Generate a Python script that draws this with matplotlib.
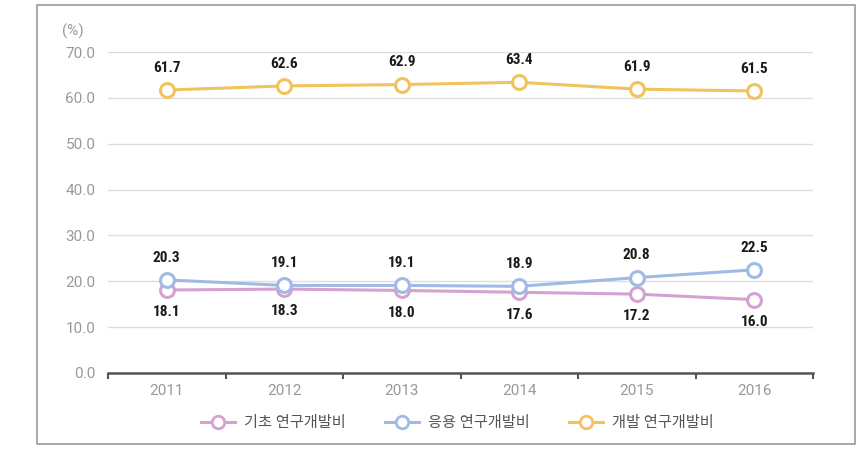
import matplotlib.pyplot as plt
from matplotlib.patches import Rectangle
from matplotlib.lines import Line2D

years = ["2011", "2012", "2013", "2014", "2015", "2016"]
basic = [18.1, 18.3, 18.0, 17.6, 17.2, 16.0]
applied = [20.3, 19.1, 19.1, 18.9, 20.8, 22.5]
develop = [61.7, 62.6, 62.9, 63.4, 61.9, 61.5]
names = ["기초 연구개발비", "응용 연구개발비", "개발 연구개발비"]
colors = ["#d4a2d0", "#9fbbe5", "#f2c35c"]

plt.rcParams["font.family"] = ["Roboto", "Noto Sans CJK KR", "DejaVu Sans"]

fig = plt.figure(figsize=(8.68, 4.59), dpi=100)
fig.patches.append(Rectangle((37 / 868, 1 - 444 / 459), 818 / 868, 439 / 459,
                             transform=fig.transFigure, fill=False,
                             edgecolor="#9a9a9a", lw=1.2))
ax = fig.add_axes([108 / 868, 1 - 373 / 459, 705 / 868, 321 / 459])

x = list(range(len(years)))
series = [(basic, -1), (applied, 1), (develop, 1)]
for (vals, side), c in zip(series, colors):
    ax.plot(x, vals, color=c, lw=2.2, marker="o", ms=10, mfc="white",
            mec=c, mew=2.2, zorder=3)
    for xi, v in zip(x, vals):
        ax.annotate(f"{v:.1f}", (xi, v), xytext=(0, 16 * side), textcoords="offset points",
                    ha="center", va="center", fontsize=11, color="#1a1a1a", weight="bold",
                    family=["Roboto Condensed", "Roboto", "DejaVu Sans"])

ax.set_xlim(-0.5, 5.5)
ax.set_ylim(0, 70)
ax.set_yticks(range(0, 71, 10))
ax.set_yticklabels([f"{t:.1f}" for t in range(0, 71, 10)])
ax.set_xticks(x)
ax.set_xticklabels(years)
ax.set_xticks([i - 0.5 for i in range(7)], minor=True)
ax.grid(axis="y", color="#dddddd", lw=1)
ax.set_axisbelow(True)
for s in ["top", "right", "left"]:
    ax.spines[s].set_visible(False)
ax.spines["bottom"].set_color("#555555")
ax.spines["bottom"].set_linewidth(1.8)
ax.tick_params(axis="y", length=0, labelsize=11, labelcolor="#999999", pad=9)
ax.tick_params(axis="x", which="major", length=0, labelsize=11, labelcolor="#999999", pad=8)
ax.tick_params(axis="x", which="minor", length=4, width=1.5, color="#555555", direction="out")
ax.text(-0.035, 1.065, "(%)", transform=ax.transAxes, ha="right", va="center",
        fontsize=11, color="#999999")

handles = [Line2D([], [], color=c, lw=2.2, marker="o", ms=9, mfc="white", mec=c, mew=2)
           for c in colors]
fig.legend(handles, names, loc="center", bbox_to_anchor=(0.527, 1 - 423 / 459), ncol=3,
           frameon=False, fontsize=11, labelcolor="#555555", handlelength=2.2,
           columnspacing=2.6, handletextpad=0.6)

fig.savefig("out.png", dpi=100)
